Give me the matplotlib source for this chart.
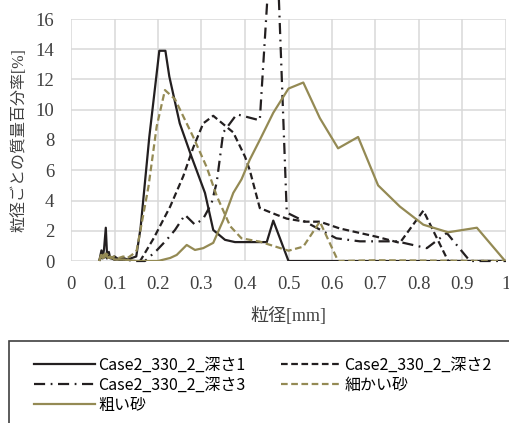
import matplotlib
matplotlib.use("Agg")
import matplotlib.pyplot as plt
from matplotlib.patches import Rectangle

# data
x_d1 = [0.065, 0.07, 0.073, 0.076, 0.08, 0.083, 0.087, 0.09, 0.1, 0.11, 0.12, 0.13, 0.14, 0.15,
        0.16, 0.18, 0.203, 0.217, 0.226, 0.25, 0.277, 0.308, 0.327, 0.354, 0.377, 0.45, 0.465, 0.5, 1.0]
y_d1 = [0.0, 0.7, 0.2, 0.8, 2.2, 0.3, 0.6, 0.2, 0.3, 0.1, 0.2, 0.1, 0.2, 0.3,
        2.2, 8.2, 13.9, 13.9, 12.2, 9.1, 6.9, 4.5, 2.05, 1.4, 1.25, 1.25, 2.67, 0.0, 0.0]

x_d2 = [0.065, 0.07, 0.075, 0.08, 0.085, 0.09, 0.1, 0.12, 0.14, 0.159, 0.19, 0.228, 0.258, 0.281,
        0.304, 0.327, 0.373, 0.4, 0.411, 0.434, 0.473, 0.496, 0.538, 0.572, 0.618, 0.703, 0.756,
        0.81, 0.867, 1.0]
y_d2 = [0.0, 0.3, 0.1, 0.4, 0.1, 0.2, 0.1, 0.1, 0.0, 0.0, 1.5, 3.6, 5.6, 7.5,
        9.1, 9.6, 8.5, 6.9, 6.0, 3.5, 3.05, 2.8, 2.6, 2.6, 2.15, 1.6, 1.2,
        3.33, 0.0, 0.0]

x_d3 = [0.065, 0.07, 0.075, 0.08, 0.085, 0.09, 0.1, 0.12, 0.15, 0.17, 0.197, 0.22, 0.239, 0.262,
        0.285, 0.304, 0.323, 0.335, 0.35, 0.381, 0.434, 0.468, 0.496, 0.538, 0.61, 0.664, 0.749,
        0.818, 0.864, 0.917, 1.0]
y_d3 = [0.0, 0.4, 0.1, 0.3, 0.1, 0.2, 0.1, 0.1, 0.0, 0.0, 0.7, 1.4, 2.05, 3.05,
        2.4, 2.8, 3.8, 5.2, 8.5, 9.7, 9.3, 25.0, 3.2, 2.6, 1.5, 1.3, 1.3,
        0.85, 1.85, 0.0, 0.0]

x_fine = [0.065, 0.07, 0.073, 0.077, 0.08, 0.085, 0.09, 0.1, 0.11, 0.12, 0.13, 0.14, 0.151, 0.178,
          0.197, 0.216, 0.239, 0.281, 0.312, 0.335, 0.366, 0.392, 0.434, 0.5, 0.534, 0.572, 0.614,
          0.7, 1.0]
y_fine = [0.0, 0.5, 0.2, 0.6, 0.3, 0.5, 0.2, 0.3, 0.2, 0.3, 0.2, 0.4, 0.7, 4.9,
          8.9, 11.3, 10.7, 8.2, 6.2, 4.3, 2.3, 1.5, 1.28, 0.68, 0.95, 2.6, 0.0,
          0.05, 0.0]

x_coarse = [0.065, 0.07, 0.075, 0.08, 0.085, 0.09, 0.1, 0.12, 0.15, 0.2, 0.228, 0.243, 0.266, 0.285,
            0.304, 0.327, 0.35, 0.373, 0.392, 0.411, 0.434, 0.465, 0.5, 0.534, 0.572, 0.614,
            0.66, 0.706, 0.756, 0.81, 0.867, 0.933, 0.998]
y_coarse = [0.0, 0.4, 0.2, 0.5, 0.2, 0.3, 0.1, 0.1, 0.0, 0.0, 0.2, 0.4, 1.06, 0.73,
            0.85, 1.2, 2.7, 4.5, 5.4, 6.7, 8.0, 9.8, 11.4, 11.8, 9.45, 7.45,
            8.2, 5.0, 3.6, 2.4, 1.9, 2.2, 0.0]

labels = ["Case2_330_2_深さ1", "Case2_330_2_深さ2", "Case2_330_2_深さ3", "細かい砂", "粗い砂"]
x_ticks = [0, 0.1, 0.2, 0.3, 0.4, 0.5, 0.6, 0.7, 0.8, 0.9, 1.0]
x_tick_labels = ["0", "0.1", "0.2", "0.3", "0.4", "0.5", "0.6", "0.7", "0.8", "0.9", "1"]
y_ticks = [0, 2, 4, 6, 8, 10, 12, 14, 16]

black = "#231f20"
tan = "#948a54"
serif = ["Liberation Serif", "Noto Sans CJK JP"]
sans = ["Noto Sans CJK JP", "DejaVu Sans"]

fig = plt.figure(figsize=(5.1, 4.23), dpi=100)
ax = fig.add_axes([71 / 510, 1 - 261 / 423, 435 / 510, 242 / 423])

lw = 1.6
h1, = ax.plot(x_d1, y_d1, color=black, lw=lw, label=labels[0])
h2, = ax.plot(x_d2, y_d2, color=black, lw=lw, dashes=(3, 1.6), label=labels[1])
h3, = ax.plot(x_d3, y_d3, color=black, lw=lw, dashes=(5, 2.5, 0.8, 2.5), label=labels[2], clip_on=False)
h4, = ax.plot(x_fine, y_fine, color=tan, lw=lw, dashes=(3, 1.6), label=labels[3])
h5, = ax.plot(x_coarse, y_coarse, color=tan, lw=lw, label=labels[4])

ax.set_xlim(0, 1)
ax.set_ylim(0, 16)
ax.set_xticks(x_ticks)
ax.set_xticklabels(x_tick_labels)
ax.set_yticks(y_ticks)
ax.grid(True, color="#d9d9d9", lw=1.1)
ax.set_axisbelow(True)
for s in ax.spines.values():
    s.set_visible(False)
ax.tick_params(length=0, labelsize=13.5, colors="#404040")
ax.tick_params(axis="x", pad=11)
ax.tick_params(axis="y", pad=12)
for t in ax.get_xticklabels() + ax.get_yticklabels():
    t.set_fontfamily(serif)

ax.set_xlabel("粒径[mm]", family=serif, fontsize=13, labelpad=10, color="#404040")
ax.set_ylabel("粒径ごとの質量百分率[%]", family=serif, fontsize=11.5, labelpad=6, color="#404040")

# legend box, cut off by the figure edge like the original
fig.patches.append(Rectangle((9 / 510, -0.1), 1.1, (423 - 341) / 423 + 0.1,
                             transform=fig.transFigure, fill=False,
                             edgecolor="#404040", lw=1.2))
# matplotlib fills legend columns first, so reorder to get row-wise order
fig.legend(handles=[h1, h3, h5, h2, h4], ncol=2, frameon=False,
           loc="upper left", bbox_to_anchor=(20 / 510, 1 - 342 / 423),
           prop={"family": sans, "size": 11.5}, handlelength=3.8,
           handletextpad=0.2, columnspacing=2.2, labelspacing=0.2)

fig.savefig("out.png", dpi=100)
